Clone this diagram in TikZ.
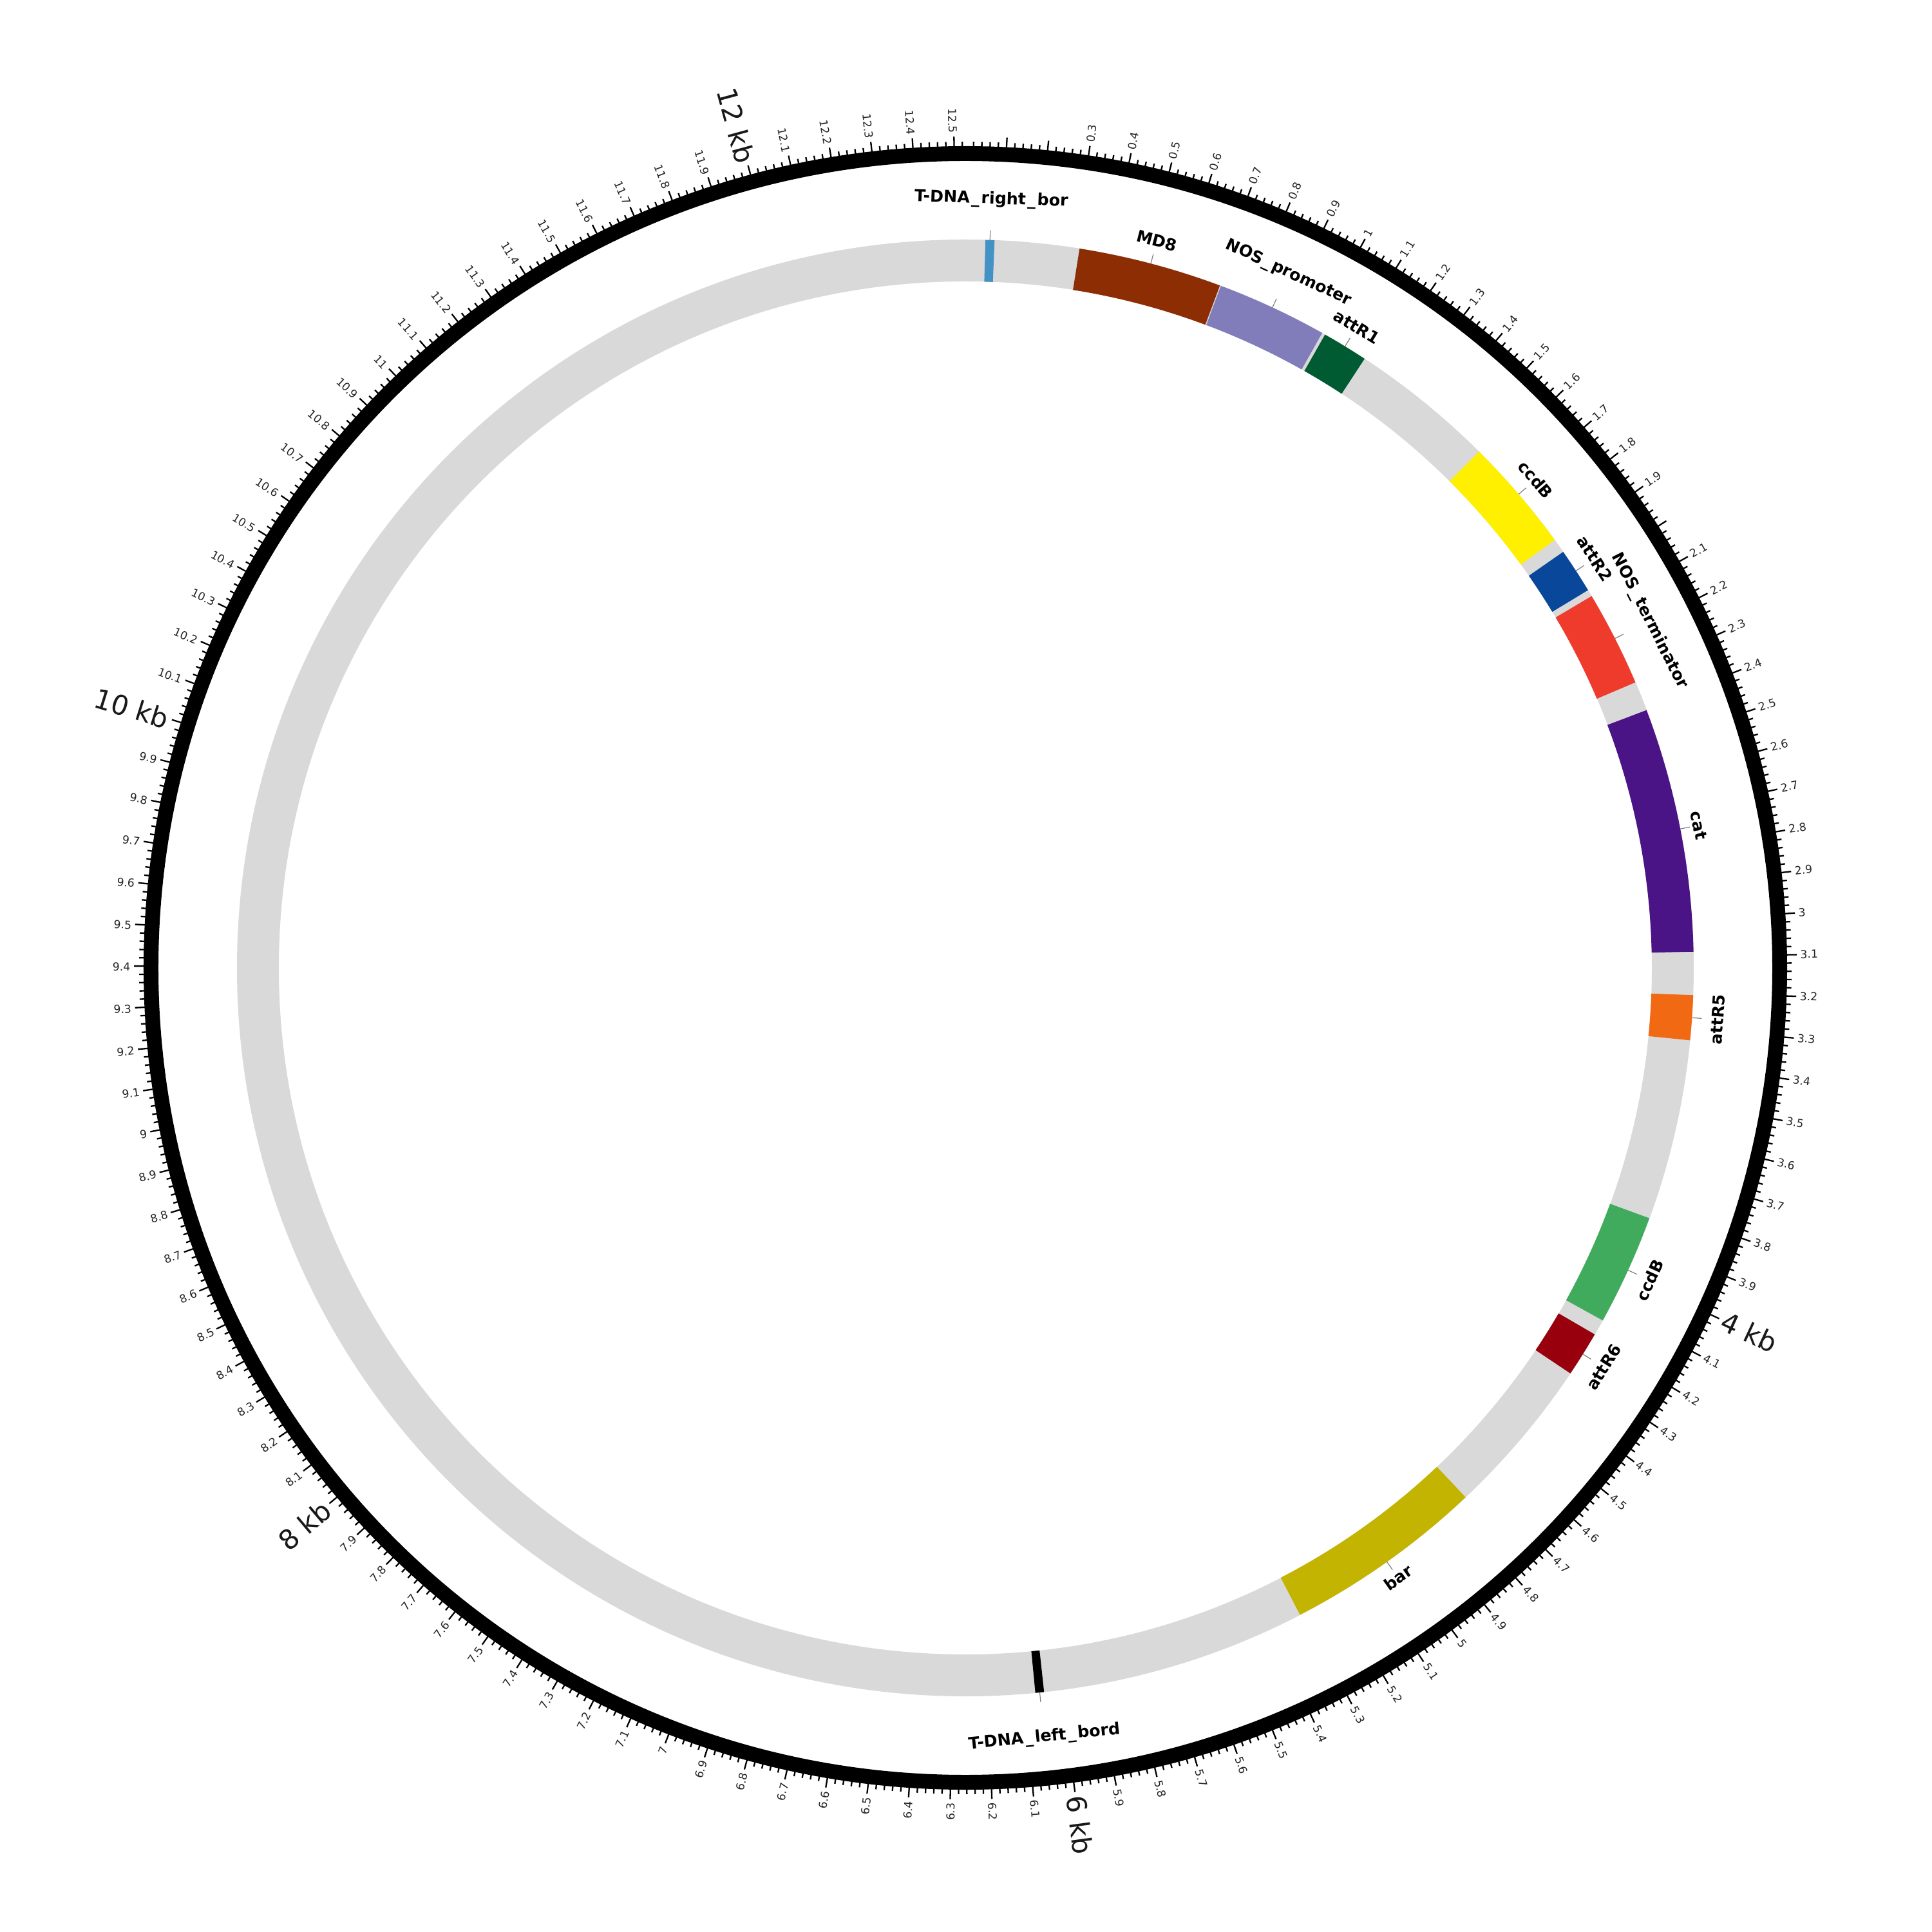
\documentclass[tikz,border=0pt]{standalone}
\usepackage{fontspec}
\setmainfont{DejaVu Sans}
\definecolor{ringgrey}{HTML}{D9D9D9}
\definecolor{cTDR}{HTML}{4292C6}
\definecolor{cMD}{HTML}{8C2D04}
\definecolor{cNOSP}{HTML}{807DBA}
\definecolor{cAR1}{HTML}{005A32}
\definecolor{cCCD1}{HTML}{FFF000}
\definecolor{cAR2}{HTML}{08479A}
\definecolor{cNOST}{HTML}{EF3B2C}
\definecolor{cCAT}{HTML}{4A1486}
\definecolor{cAR5}{HTML}{F16913}
\definecolor{cCCD2}{HTML}{41AB5D}
\definecolor{cAR6}{HTML}{99000D}
\definecolor{cBAR}{HTML}{C2B400}
\definecolor{cTDL}{HTML}{000000}
\newcommand{\us}{\kern0.1em\_\kern0.1em}
\newcommand{\featarc}[3]{%
  \pgfmathsetmacro\fA{90-#1*28.7310}%
  \pgfmathsetmacro\fB{90-#2*28.7310}%
  \fill[#3] (\fA:11.31) arc[start angle=\fA, end angle=\fB, radius=11.31cm]
    -- (\fB:10.66) arc[start angle=\fB, end angle=\fA, radius=10.66cm] -- cycle;}
\tikzset{
  tickline/.style={line width=0.023cm, black},
  leader/.style={draw=gray, line width=0.012cm},
  flabel/.style={font=\fontsize{7.2}{8}\selectfont\bfseries, inner sep=0pt},
  tlabel/.style={font=\fontsize{4.9}{6}\selectfont, text=black!85, inner sep=0pt},
  klabel/.style={font=\fontsize{12}{14}\selectfont, text=black!90, inner sep=0pt}
}
\begin{document}
\begin{tikzpicture}
\useasboundingbox (-14.99,-14.97) rectangle (15.01,15.03);
\fill[white] (-14.99,-14.97) rectangle (15.01,15.03);
% outer ring
\draw[line width=0.23cm] (0,0) circle[radius=12.645cm];
% ticks
\foreach \i in {1,...,626}{
  \pgfmathsetmacro\tA{90-\i*0.02*28.7310}
  \pgfmathtruncatemacro\mm{mod(\i,5)}
  \ifnum\mm=0
    \draw[tickline] (\tA:12.6) -- (\tA:12.91);
  \else
    \draw[tickline] (\tA:12.6) -- (\tA:12.83);
  \fi
}
% tick labels
\foreach \k in {3,...,125}{
  \pgfmathtruncatemacro\ip{floor(\k/10)}
  \pgfmathtruncatemacro\fp{\k-10*\ip}
  \pgfmathsetmacro\tB{\k*2.87310}
  \pgfmathsetmacro\pB{90-\tB}
  \ifdim\tB pt<180pt
    \def\anc{west}\pgfmathsetmacro\rA{\pB}
  \else
    \def\anc{east}\pgfmathsetmacro\rA{\pB+180}
  \fi
  \ifnum\fp=0
    \ifodd\ip
      \node[tlabel, rotate=\rA, anchor=\anc] (t\k) at (\pB:12.96) {\ip};
    \else
      \ifnum\ip>2
        \node[klabel, rotate=\rA, anchor=\anc] (t\k) at (\pB:12.96) {\ip\ kb};
      \fi
    \fi
  \else
    \node[tlabel, rotate=\rA, anchor=\anc] (t\k) at (\pB:12.96) {\ip.\fp};
  \fi
}
% feature track
\draw[ringgrey, line width=0.65cm] (0,0) circle[radius=10.985cm];
\featarc{0.055}{0.080}{cTDR}
\featarc{0.314}{0.712}{cMD}
\featarc{0.715}{1.021}{cNOSP}
\featarc{1.030}{1.157}{cAR1}
\featarc{1.561}{1.880}{cCCD1}
\featarc{1.920}{2.045}{cAR2}
\featarc{2.064}{2.329}{cNOST}
\featarc{2.411}{3.088}{cCAT}
\featarc{3.207}{3.331}{cAR5}
\featarc{3.832}{4.140}{cCCD2}
\featarc{4.184}{4.310}{cAR6}
\featarc{4.755}{5.313}{cBAR}
\featarc{6.049}{6.073}{cTDL}
% feature labels
\foreach \pp/\rr/\lbl/\nm in {
  0.0675/11.94/T-DNA\us right\us bor/tdr,
  0.5135/11.68/MD8/md,
  0.868/11.90/NOS\us promoter/nosp,
  1.0935/11.66/attR1/ar1,
  1.7205/11.66/ccdB/ccd1,
  1.9825/11.66/attR2/ar2,
  2.1965/11.91/NOS\us terminator/nost,
  2.7495/11.60/cat/cat,
  3.269/11.71/attR5/ar5,
  3.986/11.68/ccdB/ccd2,
  4.247/11.69/attR6/ar6,
  5.034/11.61/bar/bar,
  6.061/12.01/T-DNA\us left\us bord/tdl}{
  \pgfmathsetmacro\tC{\pp*28.7310}
  \pgfmathsetmacro\pC{90-\tC}
  \pgfmathsetmacro\rC{ifthenelse(and(\tC>90,\tC<270),180-\tC,-\tC)}
  \coordinate (\nm-a) at (\pC:11.31);
  \coordinate (\nm-b) at (\pC:11.46);
  \draw[leader] (\nm-a) -- (\nm-b);
  \node[flabel, rotate=\rC] (\nm) at (\pC:\rr) {\lbl};
}
\end{tikzpicture}
\end{document}
